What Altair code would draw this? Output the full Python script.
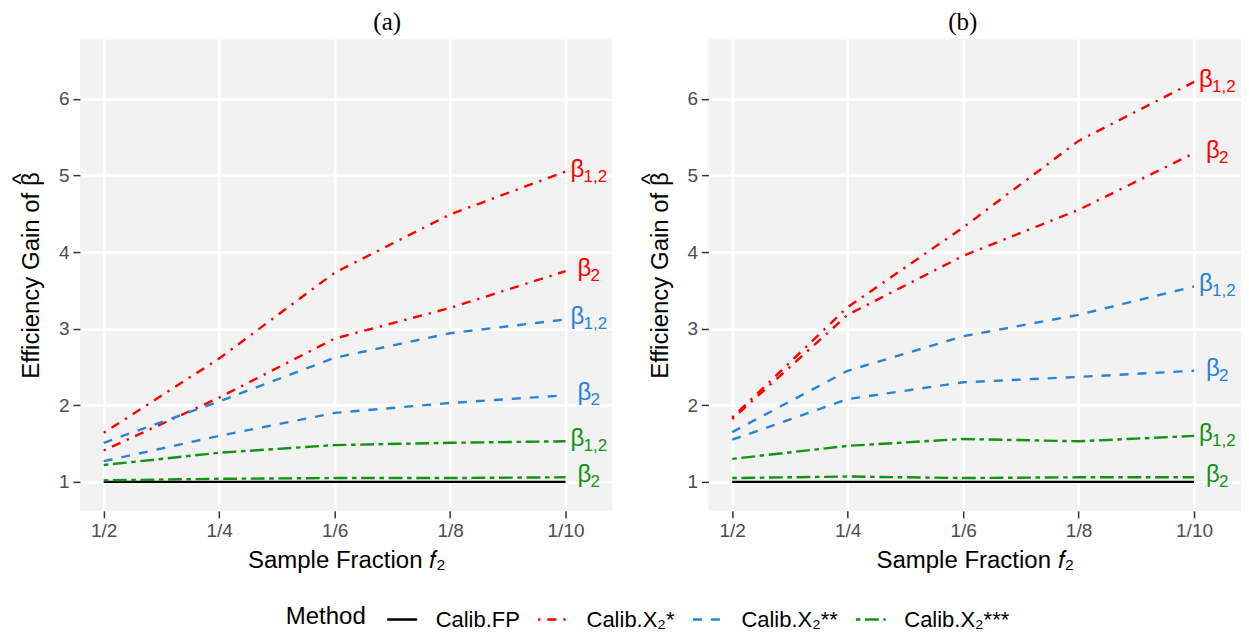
import altair as alt
import pandas as pd

# ---------------- data ----------------
fractions = ["1/2", "1/4", "1/6", "1/8", "1/10"]
methods = ["Calib.FP", "Calib.X₂*", "Calib.X₂**", "Calib.X₂***"]
colors = ["#000000", "#FF0000", "#2A82D8", "#129312"]
dashes = [[1, 0], [2.3, 6.9, 9.2, 6.9], [9, 9], [4.6, 4.6, 13.8, 4.6]]

# panel (a)
a_fp = [1.00, 1.00, 1.00, 1.00, 1.00]
a_x1_b12 = [1.64, 2.61, 3.73, 4.49, 5.05]
a_x1_b2 = [1.41, 2.10, 2.87, 3.27, 3.75]
a_x2_b12 = [1.51, 2.05, 2.62, 2.94, 3.12]
a_x2_b2 = [1.27, 1.60, 1.90, 2.03, 2.13]
a_x3_b12 = [1.22, 1.38, 1.48, 1.51, 1.53]
a_x3_b2 = [1.02, 1.04, 1.05, 1.05, 1.06]

# panel (b)
b_fp = [1.00, 1.00, 1.00, 1.00, 1.00]
b_x1_b12 = [1.84, 3.28, 4.32, 5.45, 6.22]
b_x1_b2 = [1.82, 3.18, 3.95, 4.55, 5.29]
b_x2_b12 = [1.65, 2.45, 2.90, 3.18, 3.55]
b_x2_b2 = [1.55, 2.08, 2.30, 2.37, 2.45]
b_x3_b12 = [1.30, 1.47, 1.56, 1.53, 1.60]
b_x3_b2 = [1.05, 1.07, 1.05, 1.06, 1.06]

panels = {
    "(a)": [
        (methods[0], "FP", a_fp),
        (methods[1], "b12", a_x1_b12), (methods[1], "b2", a_x1_b2),
        (methods[2], "b12", a_x2_b12), (methods[2], "b2", a_x2_b2),
        (methods[3], "b12", a_x3_b12), (methods[3], "b2", a_x3_b2),
    ],
    "(b)": [
        (methods[0], "FP", b_fp),
        (methods[1], "b12", b_x1_b12), (methods[1], "b2", b_x1_b2),
        (methods[2], "b12", b_x2_b12), (methods[2], "b2", b_x2_b2),
        (methods[3], "b12", b_x3_b12), (methods[3], "b2", b_x3_b2),
    ],
}

rows = []
for pname, series in panels.items():
    for method, param, vals in series:
        for i, v in enumerate(vals):
            rows.append({"panel": pname, "method": method, "param": param,
                         "xi": i + 1, "value": v, "last": i == len(vals) - 1})
df = pd.DataFrame(rows)

label_expr = "[" + ",".join("'" + f + "'" for f in fractions) + "][datum.value - 1]"

color_scale = alt.Scale(domain=methods, range=colors)
dash_scale = alt.Scale(domain=methods, range=dashes)

legend = alt.Legend(title="Method", orient="none", legendX=206, legendY=564,
                    direction="horizontal", titleOrient="left",
                    symbolType="stroke", symbolSize=900, symbolStrokeWidth=2.3,
                    labelOffset=17, columnPadding=12, titlePadding=19)

# y title: hat line drawn over the beta of the second line
y_title = ["\u200b" + "\u00a0" * 29 + "^", "Efficiency Gain of β"]


def make_panel(name, title_dx):
    d = df[df["panel"] == name]
    lab = d[(d["last"]) & (d["param"] != "FP")]
    x = alt.X("xi:Q",
              scale=alt.Scale(domain=[0.794, 5.407], nice=False, zero=False),
              axis=alt.Axis(values=[1, 2, 3, 4, 5], labelExpr=label_expr,
                            title="Sample Fraction 𝑓₂"))
    y = alt.Y("value:Q",
              scale=alt.Scale(domain=[0.622, 6.777], nice=False, zero=False),
              axis=alt.Axis(values=[1, 2, 3, 4, 5, 6], title=y_title,
                            titleLineHeight=10))
    base = alt.Chart(d)
    lines = base.mark_line(strokeWidth=2.4).encode(
        x=x, y=y,
        color=alt.Color("method:N", scale=color_scale, legend=legend),
        strokeDash=alt.StrokeDash("method:N", scale=dash_scale, legend=legend),
        detail="param:N",
    )
    lb = alt.Chart(lab)
    enc = dict(x=x, y=y, color=alt.Color("method:N", scale=color_scale, legend=None))
    beta12 = lb.transform_filter("datum.param == 'b12'").mark_text(
        text="β", align="left", baseline="alphabetic", dx=5, dy=5,
        font="Liberation Sans", fontSize=24).encode(**enc)
    sub12 = lb.transform_filter("datum.param == 'b12'").mark_text(
        text="1,2", align="left", baseline="alphabetic", dx=18, dy=10,
        font="Liberation Sans", fontSize=17).encode(**enc)
    beta2 = lb.transform_filter("datum.param == 'b2'").mark_text(
        text="β", align="left", baseline="alphabetic", dx=12, dy=5,
        font="Liberation Sans", fontSize=24).encode(**enc)
    sub2 = lb.transform_filter("datum.param == 'b2'").mark_text(
        text="2", align="left", baseline="alphabetic", dx=25, dy=10,
        font="Liberation Sans", fontSize=17).encode(**enc)
    return alt.layer(lines, beta12, sub12, beta2, sub2).properties(
        width=533, height=472,
        title=alt.TitleParams(name, font="Liberation Serif", fontSize=25,
                              fontWeight="normal", anchor="middle",
                              dx=title_dx, offset=4, color="black"),
    )


chart = alt.hconcat(make_panel("(a)", 41), make_panel("(b)", -12), spacing=26).properties(
    padding={"left": 2, "top": 2, "right": 0, "bottom": 0}
).configure_view(
    stroke=None, fill="#F2F2F2"
).configure_axis(
    labelFont="Liberation Sans", labelFontSize=19, labelColor="#4D4D4D",
    titleFont="Liberation Sans", titleFontSize=24, titleFontWeight="normal",
    titleColor="black", domain=False, tickColor="#333333", tickSize=7,
    tickWidth=1.5, gridColor="white", gridWidth=2.5, labelPadding=4,
).configure_axisY(
    minExtent=30, maxExtent=30, titlePadding=6
).configure_axisX(
    titlePadding=8
).configure_legend(
    titleFont="Liberation Sans", titleFontSize=24, titleFontWeight="normal",
    titleColor="black", labelFont="Liberation Sans", labelFontSize=22,
    labelColor="black"
)

chart.save("out.html", embed_options={"renderer": "svg", "actions": False})
